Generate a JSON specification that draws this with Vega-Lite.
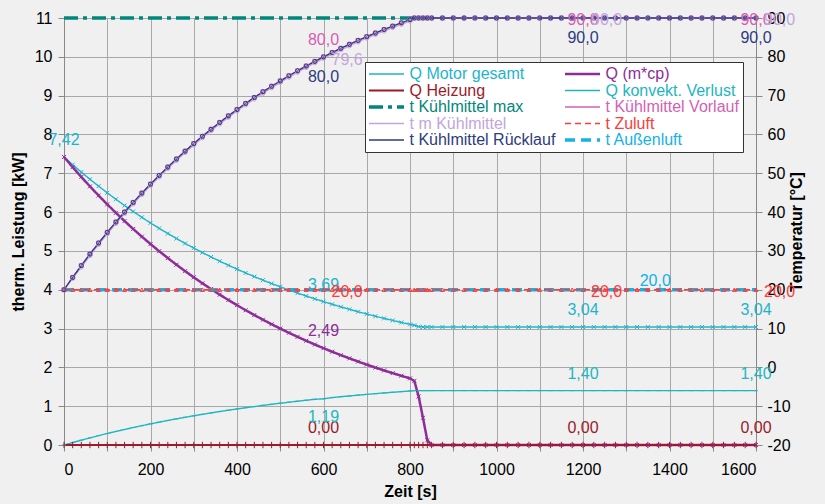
{
  "$schema": "https://vega.github.io/schema/vega-lite/v6.json",
  "width": 692,
  "height": 427,
  "autosize": "none",
  "padding": {"left": 64, "top": 18, "right": 69, "bottom": 59},
  "background": "#f0f0f0",
  "config": {
    "font": "Liberation Sans",
    "view": {"stroke": null},
    "axis": {
      "labelFont": "Liberation Sans", "labelFontSize": 16, "labelColor": "#000000",
      "titleFont": "Liberation Sans", "titleFontSize": 16, "titleFontWeight": "bold", "titleColor": "#000000",
      "domainColor": "#888888", "tickColor": "#888888", "gridColor": "#a8a8a8", "gridOpacity": 1, "tickSize": 6
    },
    "legend": {
      "orient": "none", "legendX": 301, "legendY": 44, "columns": 2, "direction": "horizontal",
      "columnPadding": 9, "rowPadding": 0.5, "padding": 4, "clipHeight": 16,
      "fillColor": "#ffffff", "strokeColor": "#333333",
      "symbolType": "stroke", "symbolSize": 1225, "symbolStrokeWidth": 2, "symbolOffset": 9.5,
      "labelFontSize": 16, "labelFont": "Liberation Sans", "labelOffset": 15, "labelLimit": 300
    }
  },
  "datasets": {
    "main": [
      {"t":0,"motor":7.42,"mcp":7.42,"heiz":0,"konv":0,"tmax":90,"tvor":20,"tm":20,"tzu":20,"trueck":20,"taus":20},
      {"t":20,"motor":7.222,"mcp":7.159,"heiz":0,"konv":0.063,"tmax":90,"tvor":23.17,"tm":22.87,"tzu":20,"trueck":23.17,"taus":20},
      {"t":40,"motor":7.03,"mcp":6.906,"heiz":0,"konv":0.124,"tmax":90,"tvor":26.22,"tm":25.82,"tzu":20,"trueck":26.22,"taus":20},
      {"t":60,"motor":6.846,"mcp":6.662,"heiz":0,"konv":0.184,"tmax":90,"tvor":29.18,"tm":28.78,"tzu":20,"trueck":29.18,"taus":20},
      {"t":80,"motor":6.668,"mcp":6.427,"heiz":0,"konv":0.241,"tmax":90,"tvor":32.03,"tm":31.63,"tzu":20,"trueck":32.03,"taus":20},
      {"t":100,"motor":6.496,"mcp":6.2,"heiz":0,"konv":0.296,"tmax":90,"tvor":34.78,"tm":34.38,"tzu":20,"trueck":34.78,"taus":20},
      {"t":120,"motor":6.33,"mcp":5.981,"heiz":0,"konv":0.349,"tmax":90,"tvor":37.44,"tm":37.04,"tzu":20,"trueck":37.44,"taus":20},
      {"t":140,"motor":6.169,"mcp":5.769,"heiz":0,"konv":0.4,"tmax":90,"tvor":40.01,"tm":39.61,"tzu":20,"trueck":40.01,"taus":20},
      {"t":160,"motor":6.015,"mcp":5.565,"heiz":0,"konv":0.45,"tmax":90,"tvor":42.49,"tm":42.09,"tzu":20,"trueck":42.49,"taus":20},
      {"t":180,"motor":5.865,"mcp":5.367,"heiz":0,"konv":0.498,"tmax":90,"tvor":44.89,"tm":44.49,"tzu":20,"trueck":44.89,"taus":20},
      {"t":200,"motor":5.721,"mcp":5.177,"heiz":0,"konv":0.544,"tmax":90,"tvor":47.2,"tm":46.8,"tzu":20,"trueck":47.2,"taus":20},
      {"t":220,"motor":5.582,"mcp":4.993,"heiz":0,"konv":0.589,"tmax":90,"tvor":49.44,"tm":49.04,"tzu":20,"trueck":49.44,"taus":20},
      {"t":240,"motor":5.448,"mcp":4.816,"heiz":0,"konv":0.632,"tmax":90,"tvor":51.6,"tm":51.2,"tzu":20,"trueck":51.6,"taus":20},
      {"t":260,"motor":5.318,"mcp":4.644,"heiz":0,"konv":0.674,"tmax":90,"tvor":53.68,"tm":53.28,"tzu":20,"trueck":53.68,"taus":20},
      {"t":280,"motor":5.193,"mcp":4.479,"heiz":0,"konv":0.714,"tmax":90,"tvor":55.7,"tm":55.3,"tzu":20,"trueck":55.7,"taus":20},
      {"t":300,"motor":5.073,"mcp":4.32,"heiz":0,"konv":0.753,"tmax":90,"tvor":57.64,"tm":57.24,"tzu":20,"trueck":57.64,"taus":20},
      {"t":320,"motor":4.956,"mcp":4.166,"heiz":0,"konv":0.79,"tmax":90,"tvor":59.52,"tm":59.12,"tzu":20,"trueck":59.52,"taus":20},
      {"t":340,"motor":4.844,"mcp":4.017,"heiz":0,"konv":0.827,"tmax":90,"tvor":61.34,"tm":60.94,"tzu":20,"trueck":61.34,"taus":20},
      {"t":360,"motor":4.735,"mcp":3.873,"heiz":0,"konv":0.862,"tmax":90,"tvor":63.09,"tm":62.69,"tzu":20,"trueck":63.09,"taus":20},
      {"t":380,"motor":4.631,"mcp":3.735,"heiz":0,"konv":0.896,"tmax":90,"tvor":64.78,"tm":64.38,"tzu":20,"trueck":64.78,"taus":20},
      {"t":400,"motor":4.53,"mcp":3.602,"heiz":0,"konv":0.928,"tmax":90,"tvor":66.42,"tm":66.02,"tzu":20,"trueck":66.42,"taus":20},
      {"t":420,"motor":4.432,"mcp":3.472,"heiz":0,"konv":0.96,"tmax":90,"tvor":67.99,"tm":67.59,"tzu":20,"trueck":67.99,"taus":20},
      {"t":440,"motor":4.338,"mcp":3.348,"heiz":0,"konv":0.99,"tmax":90,"tvor":69.52,"tm":69.12,"tzu":20,"trueck":69.52,"taus":20},
      {"t":460,"motor":4.247,"mcp":3.227,"heiz":0,"konv":1.02,"tmax":90,"tvor":70.99,"tm":70.59,"tzu":20,"trueck":70.99,"taus":20},
      {"t":480,"motor":4.159,"mcp":3.111,"heiz":0,"konv":1.048,"tmax":90,"tvor":72.41,"tm":72.01,"tzu":20,"trueck":72.41,"taus":20},
      {"t":500,"motor":4.075,"mcp":2.999,"heiz":0,"konv":1.076,"tmax":90,"tvor":73.79,"tm":73.39,"tzu":20,"trueck":73.79,"taus":20},
      {"t":520,"motor":3.993,"mcp":2.891,"heiz":0,"konv":1.102,"tmax":90,"tvor":75.11,"tm":74.71,"tzu":20,"trueck":75.11,"taus":20},
      {"t":540,"motor":3.914,"mcp":2.786,"heiz":0,"konv":1.128,"tmax":90,"tvor":76.4,"tm":76.0,"tzu":20,"trueck":76.4,"taus":20},
      {"t":560,"motor":3.838,"mcp":2.685,"heiz":0,"konv":1.153,"tmax":90,"tvor":77.63,"tm":77.23,"tzu":20,"trueck":77.63,"taus":20},
      {"t":580,"motor":3.765,"mcp":2.588,"heiz":0,"konv":1.177,"tmax":90,"tvor":78.83,"tm":78.43,"tzu":20,"trueck":78.83,"taus":20},
      {"t":600,"motor":3.694,"mcp":2.494,"heiz":0,"konv":1.19,"tmax":90,"tvor":79.98,"tm":79.58,"tzu":20,"trueck":79.98,"taus":20},
      {"t":620,"motor":3.625,"mcp":2.403,"heiz":0,"konv":1.222,"tmax":90,"tvor":81.1,"tm":80.7,"tzu":20,"trueck":81.1,"taus":20},
      {"t":640,"motor":3.559,"mcp":2.315,"heiz":0,"konv":1.244,"tmax":90,"tvor":82.18,"tm":81.78,"tzu":20,"trueck":82.18,"taus":20},
      {"t":660,"motor":3.496,"mcp":2.232,"heiz":0,"konv":1.264,"tmax":90,"tvor":83.22,"tm":82.82,"tzu":20,"trueck":83.22,"taus":20},
      {"t":680,"motor":3.434,"mcp":2.15,"heiz":0,"konv":1.284,"tmax":90,"tvor":84.22,"tm":83.82,"tzu":20,"trueck":84.22,"taus":20},
      {"t":700,"motor":3.375,"mcp":2.071,"heiz":0,"konv":1.304,"tmax":90,"tvor":85.19,"tm":84.79,"tzu":20,"trueck":85.19,"taus":20},
      {"t":720,"motor":3.317,"mcp":1.994,"heiz":0,"konv":1.323,"tmax":90,"tvor":86.13,"tm":85.73,"tzu":20,"trueck":86.13,"taus":20},
      {"t":740,"motor":3.262,"mcp":1.921,"heiz":0,"konv":1.341,"tmax":90,"tvor":87.03,"tm":86.63,"tzu":20,"trueck":87.03,"taus":20},
      {"t":760,"motor":3.209,"mcp":1.851,"heiz":0,"konv":1.358,"tmax":90,"tvor":87.91,"tm":87.51,"tzu":20,"trueck":87.91,"taus":20},
      {"t":780,"motor":3.157,"mcp":1.782,"heiz":0,"konv":1.375,"tmax":90,"tvor":88.75,"tm":88.35,"tzu":20,"trueck":88.75,"taus":20},
      {"t":800,"motor":3.108,"mcp":1.717,"heiz":0,"konv":1.391,"tmax":90,"tvor":89.57,"tm":89.17,"tzu":20,"trueck":89.57,"taus":20},
      {"t":810,"motor":3.084,"mcp":1.65,"heiz":0,"konv":1.4,"tmax":90,"tvor":90,"tm":90,"tzu":20,"trueck":90,"taus":20},
      {"t":820,"motor":3.05,"mcp":1.25,"heiz":0,"konv":1.4,"tvor":90,"tm":90,"tzu":20,"trueck":90,"taus":20},
      {"t":830,"motor":3.04,"mcp":0.7,"heiz":0,"konv":1.4,"tvor":90,"tm":90,"tzu":20,"trueck":90,"taus":20},
      {"t":840,"motor":3.04,"mcp":0.12,"heiz":0,"konv":1.4,"tvor":90,"tm":90,"tzu":20,"trueck":90,"taus":20},
      {"t":850,"motor":3.04,"mcp":0,"heiz":0,"konv":1.4,"tvor":90,"tm":90,"tzu":20,"trueck":90,"taus":20},
      {"t":875,"motor":3.04,"mcp":0,"heiz":0,"konv":1.4,"tvor":90,"tm":90,"tzu":20,"trueck":90,"taus":20},
      {"t":900,"motor":3.04,"mcp":0,"heiz":0,"konv":1.4,"tvor":90,"tm":90,"tzu":20,"trueck":90,"taus":20},
      {"t":925,"motor":3.04,"mcp":0,"heiz":0,"konv":1.4,"tvor":90,"tm":90,"tzu":20,"trueck":90,"taus":20},
      {"t":950,"motor":3.04,"mcp":0,"heiz":0,"konv":1.4,"tvor":90,"tm":90,"tzu":20,"trueck":90,"taus":20},
      {"t":975,"motor":3.04,"mcp":0,"heiz":0,"konv":1.4,"tvor":90,"tm":90,"tzu":20,"trueck":90,"taus":20},
      {"t":1000,"motor":3.04,"mcp":0,"heiz":0,"konv":1.4,"tvor":90,"tm":90,"tzu":20,"trueck":90,"taus":20},
      {"t":1025,"motor":3.04,"mcp":0,"heiz":0,"konv":1.4,"tvor":90,"tm":90,"tzu":20,"trueck":90,"taus":20},
      {"t":1050,"motor":3.04,"mcp":0,"heiz":0,"konv":1.4,"tvor":90,"tm":90,"tzu":20,"trueck":90,"taus":20},
      {"t":1075,"motor":3.04,"mcp":0,"heiz":0,"konv":1.4,"tvor":90,"tm":90,"tzu":20,"trueck":90,"taus":20},
      {"t":1100,"motor":3.04,"mcp":0,"heiz":0,"konv":1.4,"tvor":90,"tm":90,"tzu":20,"trueck":90,"taus":20},
      {"t":1125,"motor":3.04,"mcp":0,"heiz":0,"konv":1.4,"tvor":90,"tm":90,"tzu":20,"trueck":90,"taus":20},
      {"t":1150,"motor":3.04,"mcp":0,"heiz":0,"konv":1.4,"tvor":90,"tm":90,"tzu":20,"trueck":90,"taus":20},
      {"t":1175,"motor":3.04,"mcp":0,"heiz":0,"konv":1.4,"tvor":90,"tm":90,"tzu":20,"trueck":90,"taus":20},
      {"t":1200,"motor":3.04,"mcp":0,"heiz":0,"konv":1.4,"tvor":90,"tm":90,"tzu":20,"trueck":90,"taus":20},
      {"t":1225,"motor":3.04,"mcp":0,"heiz":0,"konv":1.4,"tvor":90,"tm":90,"tzu":20,"trueck":90,"taus":20},
      {"t":1250,"motor":3.04,"mcp":0,"heiz":0,"konv":1.4,"tvor":90,"tm":90,"tzu":20,"trueck":90,"taus":20},
      {"t":1275,"motor":3.04,"mcp":0,"heiz":0,"konv":1.4,"tvor":90,"tm":90,"tzu":20,"trueck":90,"taus":20},
      {"t":1300,"motor":3.04,"mcp":0,"heiz":0,"konv":1.4,"tvor":90,"tm":90,"tzu":20,"trueck":90,"taus":20},
      {"t":1325,"motor":3.04,"mcp":0,"heiz":0,"konv":1.4,"tvor":90,"tm":90,"tzu":20,"trueck":90,"taus":20},
      {"t":1350,"motor":3.04,"mcp":0,"heiz":0,"konv":1.4,"tvor":90,"tm":90,"tzu":20,"trueck":90,"taus":20},
      {"t":1375,"motor":3.04,"mcp":0,"heiz":0,"konv":1.4,"tvor":90,"tm":90,"tzu":20,"trueck":90,"taus":20},
      {"t":1400,"motor":3.04,"mcp":0,"heiz":0,"konv":1.4,"tvor":90,"tm":90,"tzu":20,"trueck":90,"taus":20},
      {"t":1425,"motor":3.04,"mcp":0,"heiz":0,"konv":1.4,"tvor":90,"tm":90,"tzu":20,"trueck":90,"taus":20},
      {"t":1450,"motor":3.04,"mcp":0,"heiz":0,"konv":1.4,"tvor":90,"tm":90,"tzu":20,"trueck":90,"taus":20},
      {"t":1475,"motor":3.04,"mcp":0,"heiz":0,"konv":1.4,"tvor":90,"tm":90,"tzu":20,"trueck":90,"taus":20},
      {"t":1500,"motor":3.04,"mcp":0,"heiz":0,"konv":1.4,"tvor":90,"tm":90,"tzu":20,"trueck":90,"taus":20},
      {"t":1525,"motor":3.04,"mcp":0,"heiz":0,"konv":1.4,"tvor":90,"tm":90,"tzu":20,"trueck":90,"taus":20},
      {"t":1550,"motor":3.04,"mcp":0,"heiz":0,"konv":1.4,"tvor":90,"tm":90,"tzu":20,"trueck":90,"taus":20},
      {"t":1575,"motor":3.04,"mcp":0,"heiz":0,"konv":1.4,"tvor":90,"tm":90,"tzu":20,"trueck":90,"taus":20},
      {"t":1600,"motor":3.04,"mcp":0,"heiz":0,"konv":1.4,"tvor":90,"tm":90,"tzu":20,"trueck":90,"taus":20}
    ],
    "kwAbove": [
      {"t":0,"v":7.42,"s":"motor","txt":"7,42"},
      {"t":600,"v":3.69,"s":"motor","txt":"3,69"},
      {"t":1200,"v":3.04,"s":"motor","txt":"3,04"},
      {"t":1600,"v":3.04,"s":"motor","txt":"3,04"},
      {"t":600,"v":2.49,"s":"mcp","txt":"2,49"},
      {"t":1200,"v":1.4,"s":"konv","txt":"1,40"},
      {"t":1600,"v":1.4,"s":"konv","txt":"1,40"},
      {"t":600,"v":0,"s":"heiz","txt":"0,00"},
      {"t":1200,"v":0,"s":"heiz","txt":"0,00"},
      {"t":1600,"v":0,"s":"heiz","txt":"0,00"}
    ],
    "kwBelow": [
      {"t":600,"v":1.19,"s":"konv","txt":"1,19"}
    ],
    "tAbove": [
      {"t":600,"v":80.0,"s":"tvor","txt":"80,0"}
    ],
    "tAus": [
      {"t":1367,"v":20.0,"s":"taus","txt":"20,0"}
    ],
    "tCenter": [
      {"t":1200,"v":90.0,"s":"tvor","txt":"90,0"},
      {"t":1600,"v":90.0,"s":"tvor","txt":"90,0"}
    ],
    "tRight": [
      {"t":600,"v":79.6,"s":"tm","txt":"79,6"},
      {"t":1200,"v":90.0,"s":"tm","txt":"90,0"},
      {"t":1600,"v":90.0,"s":"tm","txt":"90,0"},
      {"t":600,"v":20.0,"s":"tzu","txt":"20,0"},
      {"t":1200,"v":20.0,"s":"tzu","txt":"20,0"},
      {"t":1600,"v":20.0,"s":"tzu","txt":"20,0"}
    ],
    "tBelow": [
      {"t":600,"v":80.0,"s":"trueck","txt":"80,0"},
      {"t":1200,"v":90.0,"s":"trueck","txt":"90,0"},
      {"t":1600,"v":90.0,"s":"trueck","txt":"90,0"}
    ]
  },
  "data": {"name": "main"},
  "encoding": {
    "x": {
      "field": "t", "type": "quantitative",
      "scale": {"domain": [0, 1600], "nice": false, "zero": false},
      "axis": {
        "values": [0,100,200,300,400,500,600,700,800,900,1000,1100,1200,1300,1400,1500,1600],
        "labelExpr": "datum.value % 200 == 0 ? toString(datum.value) : ''",
        "title": "Zeit [s]", "grid": true, "tickSize": 6, "labelPadding": 10, "titlePadding": 6
      }
    }
  },
  "layer": [
    {
      "encoding": {
        "y": {
          "field": "v", "type": "quantitative",
          "scale": {"domain": [0, 11], "nice": false, "zero": false},
          "axis": {
            "values": [0,1,2,3,4,5,6,7,8,9,10,11],
            "labelExpr": "toString(datum.value)",
            "title": "therm. Leistung [kW]", "grid": true, "tickSize": 6, "labelPadding": 6, "titlePadding": 8
          }
        }
      },
      "layer": [
        {
          "transform": [{"fold": ["konv", "motor"], "as": ["s", "v"]}],
          "mark": {"type": "line", "strokeWidth": 1.4},
          "encoding": {
            "color": {"field": "s", "type": "nominal",
              "scale": {"domain": ["motor","mcp","heiz","konv","tmax","tvor","tm","tzu","trueck","taus"], "range": ["#1db4cc","#8e2c98","#9b1b2b","#20b6c0","#00877b","#d45fb5","#c3a5db","#ff3b3b","#2d3b80","#12b3e6"]},
              "legend": {"title": null,
                "labelExpr": "datum.value=='motor'?'Q Motor gesamt':datum.value=='mcp'?'Q (m*cp)':datum.value=='heiz'?'Q Heizung':datum.value=='konv'?'Q konvekt. Verlust':datum.value=='tmax'?'t Kühlmittel max':datum.value=='tvor'?'t Kühlmittel Vorlauf':datum.value=='tm'?'t m Kühlmittel':datum.value=='tzu'?'t Zuluft':datum.value=='trueck'?'t Kühlmittel Rücklauf':'t Außenluft'",
                "encode": {"labels": {"update": {"fill": {"scale": "color", "field": "value"}}},
                           "symbols": {"update": {"shape": {"value": "stroke"}, "size": {"value": 1225}, "stroke": {"scale": "color", "field": "value"}, "strokeDash": {"scale": "strokeDash", "field": "value"}, "strokeWidth": {"signal": "datum.value=='tmax'||datum.value=='taus'?3.5:datum.value=='mcp'?2.5:datum.value=='heiz'?2:1.5"}, "fill": {"value": "transparent"}, "opacity": {"value": 1}}}}}},
            "strokeDash": {"field": "s", "type": "nominal",
              "scale": {"domain": ["motor","mcp","heiz","konv","tmax","tvor","tm","tzu","trueck","taus"], "range": [[1,0],[1,0],[1,0],[1,0],[14,5,4,5],[1,0],[1,0],[6,4],[1,0],[10,6]]}}
          }
        },
        {
          "transform": [{"fold": ["mcp"], "as": ["s", "v"]}],
          "mark": {"type": "line", "strokeWidth": 2.5},
          "encoding": {
            "color": {"field": "s", "type": "nominal",
              "scale": {"domain": ["motor","mcp","heiz","konv","tmax","tvor","tm","tzu","trueck","taus"], "range": ["#1db4cc","#8e2c98","#9b1b2b","#20b6c0","#00877b","#d45fb5","#c3a5db","#ff3b3b","#2d3b80","#12b3e6"]},
              "legend": {"title": null,
                "labelExpr": "datum.value=='motor'?'Q Motor gesamt':datum.value=='mcp'?'Q (m*cp)':datum.value=='heiz'?'Q Heizung':datum.value=='konv'?'Q konvekt. Verlust':datum.value=='tmax'?'t Kühlmittel max':datum.value=='tvor'?'t Kühlmittel Vorlauf':datum.value=='tm'?'t m Kühlmittel':datum.value=='tzu'?'t Zuluft':datum.value=='trueck'?'t Kühlmittel Rücklauf':'t Außenluft'",
                "encode": {"labels": {"update": {"fill": {"scale": "color", "field": "value"}}},
                           "symbols": {"update": {"shape": {"value": "stroke"}, "size": {"value": 1225}, "stroke": {"scale": "color", "field": "value"}, "strokeDash": {"scale": "strokeDash", "field": "value"}, "strokeWidth": {"signal": "datum.value=='tmax'||datum.value=='taus'?3.5:datum.value=='mcp'?2.5:datum.value=='heiz'?2:1.5"}, "fill": {"value": "transparent"}, "opacity": {"value": 1}}}}}},
            "strokeDash": {"field": "s", "type": "nominal",
              "scale": {"domain": ["motor","mcp","heiz","konv","tmax","tvor","tm","tzu","trueck","taus"], "range": [[1,0],[1,0],[1,0],[1,0],[14,5,4,5],[1,0],[1,0],[6,4],[1,0],[10,6]]}}
          }
        },
        {
          "transform": [{"fold": ["heiz"], "as": ["s", "v"]}],
          "mark": {"type": "line", "strokeWidth": 2},
          "encoding": {
            "color": {"field": "s", "type": "nominal",
              "scale": {"domain": ["motor","mcp","heiz","konv","tmax","tvor","tm","tzu","trueck","taus"], "range": ["#1db4cc","#8e2c98","#9b1b2b","#20b6c0","#00877b","#d45fb5","#c3a5db","#ff3b3b","#2d3b80","#12b3e6"]},
              "legend": {"title": null,
                "labelExpr": "datum.value=='motor'?'Q Motor gesamt':datum.value=='mcp'?'Q (m*cp)':datum.value=='heiz'?'Q Heizung':datum.value=='konv'?'Q konvekt. Verlust':datum.value=='tmax'?'t Kühlmittel max':datum.value=='tvor'?'t Kühlmittel Vorlauf':datum.value=='tm'?'t m Kühlmittel':datum.value=='tzu'?'t Zuluft':datum.value=='trueck'?'t Kühlmittel Rücklauf':'t Außenluft'",
                "encode": {"labels": {"update": {"fill": {"scale": "color", "field": "value"}}},
                           "symbols": {"update": {"shape": {"value": "stroke"}, "size": {"value": 1225}, "stroke": {"scale": "color", "field": "value"}, "strokeDash": {"scale": "strokeDash", "field": "value"}, "strokeWidth": {"signal": "datum.value=='tmax'||datum.value=='taus'?3.5:datum.value=='mcp'?2.5:datum.value=='heiz'?2:1.5"}, "fill": {"value": "transparent"}, "opacity": {"value": 1}}}}}},
            "strokeDash": {"field": "s", "type": "nominal",
              "scale": {"domain": ["motor","mcp","heiz","konv","tmax","tvor","tm","tzu","trueck","taus"], "range": [[1,0],[1,0],[1,0],[1,0],[14,5,4,5],[1,0],[1,0],[6,4],[1,0],[10,6]]}}
          }
        },
        {
          "transform": [{"fold": ["konv", "motor", "mcp", "heiz"], "as": ["m", "v"]}],
          "mark": {"type": "point", "filled": false, "strokeWidth": 1, "opacity": 1, "size": 16},
          "encoding": {
            "shape": {"field": "m", "type": "nominal",
              "scale": {"domain": ["motor","mcp","heiz","konv","tvor","tm","tzu","trueck"], "range": ["M-1,-1L1,1M-1,1L1,-1","M-1,-1L1,1M-1,1L1,-1","M0,-1.6L0,1.6","M-1,0L1,0","square","circle","triangle-up","circle"]},
              "legend": null},
            "stroke": {"field": "m", "type": "nominal",
              "scale": {"domain": ["motor","mcp","heiz","konv","tvor","tm","tzu","trueck"], "range": ["#1db4cc","#8e2c98","#9b1b2b","#20b6c0","#d45fb5","#c3a5db","#ff3b3b","#2d3b80"]},
              "legend": null}
          }
        },
        {
          "data": {"name": "kwAbove"},
          "mark": {"type": "text", "fontSize": 16, "dy": -17, "align": "center", "baseline": "middle"},
          "encoding": {
            "text": {"field": "txt"},
            "fill": {"field": "s", "type": "nominal",
              "scale": {"domain": ["motor","mcp","heiz","konv","tmax","tvor","tm","tzu","trueck","taus"], "range": ["#1db4cc","#8e2c98","#9b1b2b","#20b6c0","#00877b","#d45fb5","#c3a5db","#ff3b3b","#2d3b80","#12b3e6"]},
              "legend": null}
          }
        },
        {
          "data": {"name": "kwBelow"},
          "mark": {"type": "text", "fontSize": 16, "dy": 18, "align": "center", "baseline": "middle"},
          "encoding": {
            "text": {"field": "txt"},
            "fill": {"field": "s", "type": "nominal",
              "scale": {"domain": ["motor","mcp","heiz","konv","tmax","tvor","tm","tzu","trueck","taus"], "range": ["#1db4cc","#8e2c98","#9b1b2b","#20b6c0","#00877b","#d45fb5","#c3a5db","#ff3b3b","#2d3b80","#12b3e6"]},
              "legend": null}
          }
        }
      ]
    },
    {
      "encoding": {
        "y": {
          "field": "v", "type": "quantitative",
          "scale": {"domain": [-20, 90], "nice": false, "zero": false},
          "axis": {
            "orient": "right",
            "values": [-20,-10,0,10,20,30,40,50,60,70,80,90],
            "labelExpr": "toString(datum.value)",
            "title": "Temperatur [°C]", "titleAngle": 270, "grid": false, "tickSize": 6, "labelPadding": 5, "titlePadding": 14
          }
        }
      },
      "layer": [
        {
          "transform": [{"fold": ["tmax", "taus"], "as": ["s", "v"]}],
          "mark": {"type": "line", "strokeWidth": 3.5},
          "encoding": {
            "color": {"field": "s", "type": "nominal",
              "scale": {"domain": ["motor","mcp","heiz","konv","tmax","tvor","tm","tzu","trueck","taus"], "range": ["#1db4cc","#8e2c98","#9b1b2b","#20b6c0","#00877b","#d45fb5","#c3a5db","#ff3b3b","#2d3b80","#12b3e6"]},
              "legend": {"title": null,
                "labelExpr": "datum.value=='motor'?'Q Motor gesamt':datum.value=='mcp'?'Q (m*cp)':datum.value=='heiz'?'Q Heizung':datum.value=='konv'?'Q konvekt. Verlust':datum.value=='tmax'?'t Kühlmittel max':datum.value=='tvor'?'t Kühlmittel Vorlauf':datum.value=='tm'?'t m Kühlmittel':datum.value=='tzu'?'t Zuluft':datum.value=='trueck'?'t Kühlmittel Rücklauf':'t Außenluft'",
                "encode": {"labels": {"update": {"fill": {"scale": "color", "field": "value"}}},
                           "symbols": {"update": {"shape": {"value": "stroke"}, "size": {"value": 1225}, "stroke": {"scale": "color", "field": "value"}, "strokeDash": {"scale": "strokeDash", "field": "value"}, "strokeWidth": {"signal": "datum.value=='tmax'||datum.value=='taus'?3.5:datum.value=='mcp'?2.5:datum.value=='heiz'?2:1.5"}, "fill": {"value": "transparent"}, "opacity": {"value": 1}}}}}},
            "strokeDash": {"field": "s", "type": "nominal",
              "scale": {"domain": ["motor","mcp","heiz","konv","tmax","tvor","tm","tzu","trueck","taus"], "range": [[1,0],[1,0],[1,0],[1,0],[14,5,4,5],[1,0],[1,0],[6,4],[1,0],[10,6]]}}
          }
        },
        {
          "transform": [{"fold": ["tzu", "tvor", "tm", "trueck"], "as": ["s", "v"]}],
          "mark": {"type": "line", "strokeWidth": 1.3},
          "encoding": {
            "color": {"field": "s", "type": "nominal",
              "scale": {"domain": ["motor","mcp","heiz","konv","tmax","tvor","tm","tzu","trueck","taus"], "range": ["#1db4cc","#8e2c98","#9b1b2b","#20b6c0","#00877b","#d45fb5","#c3a5db","#ff3b3b","#2d3b80","#12b3e6"]},
              "legend": {"title": null,
                "labelExpr": "datum.value=='motor'?'Q Motor gesamt':datum.value=='mcp'?'Q (m*cp)':datum.value=='heiz'?'Q Heizung':datum.value=='konv'?'Q konvekt. Verlust':datum.value=='tmax'?'t Kühlmittel max':datum.value=='tvor'?'t Kühlmittel Vorlauf':datum.value=='tm'?'t m Kühlmittel':datum.value=='tzu'?'t Zuluft':datum.value=='trueck'?'t Kühlmittel Rücklauf':'t Außenluft'",
                "encode": {"labels": {"update": {"fill": {"scale": "color", "field": "value"}}},
                           "symbols": {"update": {"shape": {"value": "stroke"}, "size": {"value": 1225}, "stroke": {"scale": "color", "field": "value"}, "strokeDash": {"scale": "strokeDash", "field": "value"}, "strokeWidth": {"signal": "datum.value=='tmax'||datum.value=='taus'?3.5:datum.value=='mcp'?2.5:datum.value=='heiz'?2:1.5"}, "fill": {"value": "transparent"}, "opacity": {"value": 1}}}}}},
            "strokeDash": {"field": "s", "type": "nominal",
              "scale": {"domain": ["motor","mcp","heiz","konv","tmax","tvor","tm","tzu","trueck","taus"], "range": [[1,0],[1,0],[1,0],[1,0],[14,5,4,5],[1,0],[1,0],[6,4],[1,0],[10,6]]}}
          }
        },
        {
          "transform": [{"fold": ["tzu", "tvor", "tm", "trueck"], "as": ["m", "v"]}],
          "mark": {"type": "point", "filled": false, "strokeWidth": 1, "opacity": 1, "size": 16},
          "encoding": {
            "shape": {"field": "m", "type": "nominal",
              "scale": {"domain": ["motor","mcp","heiz","konv","tvor","tm","tzu","trueck"], "range": ["M-1,-1L1,1M-1,1L1,-1","M-1,-1L1,1M-1,1L1,-1","M0,-1.6L0,1.6","M-1,0L1,0","square","circle","triangle-up","circle"]},
              "legend": null},
            "stroke": {"field": "m", "type": "nominal",
              "scale": {"domain": ["motor","mcp","heiz","konv","tvor","tm","tzu","trueck"], "range": ["#1db4cc","#8e2c98","#9b1b2b","#20b6c0","#d45fb5","#c3a5db","#ff3b3b","#2d3b80"]},
              "legend": null}
          }
        },
        {
          "data": {"name": "tAbove"},
          "mark": {"type": "text", "fontSize": 16, "dy": -17, "align": "center", "baseline": "middle"},
          "encoding": {
            "text": {"field": "txt"},
            "fill": {"field": "s", "type": "nominal",
              "scale": {"domain": ["motor","mcp","heiz","konv","tmax","tvor","tm","tzu","trueck","taus"], "range": ["#1db4cc","#8e2c98","#9b1b2b","#20b6c0","#00877b","#d45fb5","#c3a5db","#ff3b3b","#2d3b80","#12b3e6"]},
              "legend": null}
          }
        },
        {
          "data": {"name": "tAus"},
          "mark": {"type": "text", "fontSize": 16, "dy": -9, "align": "center", "baseline": "middle"},
          "encoding": {
            "text": {"field": "txt"},
            "fill": {"field": "s", "type": "nominal",
              "scale": {"domain": ["motor","mcp","heiz","konv","tmax","tvor","tm","tzu","trueck","taus"], "range": ["#1db4cc","#8e2c98","#9b1b2b","#20b6c0","#00877b","#d45fb5","#c3a5db","#ff3b3b","#2d3b80","#12b3e6"]},
              "legend": null}
          }
        },
        {
          "data": {"name": "tCenter"},
          "mark": {"type": "text", "fontSize": 16, "dy": 2, "align": "center", "baseline": "middle"},
          "encoding": {
            "text": {"field": "txt"},
            "fill": {"field": "s", "type": "nominal",
              "scale": {"domain": ["motor","mcp","heiz","konv","tmax","tvor","tm","tzu","trueck","taus"], "range": ["#1db4cc","#8e2c98","#9b1b2b","#20b6c0","#00877b","#d45fb5","#c3a5db","#ff3b3b","#2d3b80","#12b3e6"]},
              "legend": null}
          }
        },
        {
          "data": {"name": "tRight"},
          "mark": {"type": "text", "fontSize": 16, "dx": 8, "dy": 2, "align": "left", "baseline": "middle"},
          "encoding": {
            "text": {"field": "txt"},
            "fill": {"field": "s", "type": "nominal",
              "scale": {"domain": ["motor","mcp","heiz","konv","tmax","tvor","tm","tzu","trueck","taus"], "range": ["#1db4cc","#8e2c98","#9b1b2b","#20b6c0","#00877b","#d45fb5","#c3a5db","#ff3b3b","#2d3b80","#12b3e6"]},
              "legend": null}
          }
        },
        {
          "data": {"name": "tBelow"},
          "mark": {"type": "text", "fontSize": 16, "dy": 20, "align": "center", "baseline": "middle"},
          "encoding": {
            "text": {"field": "txt"},
            "fill": {"field": "s", "type": "nominal",
              "scale": {"domain": ["motor","mcp","heiz","konv","tmax","tvor","tm","tzu","trueck","taus"], "range": ["#1db4cc","#8e2c98","#9b1b2b","#20b6c0","#00877b","#d45fb5","#c3a5db","#ff3b3b","#2d3b80","#12b3e6"]},
              "legend": null}
          }
        }
      ]
    }
  ],
  "resolve": {"scale": {"y": "independent"}}
}
